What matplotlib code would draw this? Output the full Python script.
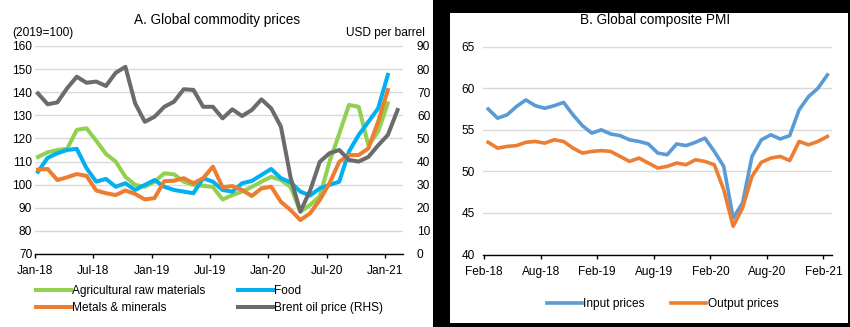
import numpy as np
import matplotlib
matplotlib.use("Agg")
import matplotlib.pyplot as plt
from matplotlib.patches import Rectangle

plt.rcParams['font.family'] = ['Liberation Sans', 'DejaVu Sans']

# ---- Panel A: global commodity prices (monthly, Jan-18 onwards) ----
a_ticklabels = ['Jan-18', 'Jul-18', 'Jan-19', 'Jul-19', 'Jan-20', 'Jul-20', 'Jan-21']
agri = [112, 114, 115, 115.5, 123.7, 124.4, 119, 113.3, 110, 103.4, 99.9, 99.1,
        101.3, 104.9, 104.5, 101.3, 99.9, 99.5, 99, 93.6, 95.5, 97, 99, 101.3,
        103.4, 102, 99, 88.3, 91.2, 95, 110, 122, 134.5, 133.7, 117, 123, 135.2]
food = [105.6, 111.6, 113.6, 115, 115.5, 107.1, 101.3, 102.5, 99.1, 100.6, 97.7, 99.9,
        102, 99.1, 97.7, 97, 96.3, 102.8, 101.3, 97.7, 97, 100.6, 101.6, 104.2,
        106.8, 102.8, 101, 97, 95.3, 98.4, 99.9, 101.3, 114.3, 121.5, 127.2, 133, 147.5]
metals = [106.5, 106.8, 102, 103.2, 104.6, 103.8, 97.5, 96.3, 95.5, 97.5, 96, 93.6,
          94.2, 101.5, 101.7, 102.8, 100.6, 102.8, 107.8, 98.9, 99.4, 97.7, 95.1, 98.4,
          99.1, 92.6, 89, 84.7, 87.6, 93.4, 100.6, 109.9, 112.8, 112.8, 115.7, 127.2, 141]
brent = [69.5, 64.8, 65.6, 71.7, 76.7, 74.1, 74.6, 72.7, 78.4, 81, 65.2, 57.2,
         59.4, 63.7, 65.9, 71.3, 71, 63.7, 63.7, 58.7, 62.6, 59.7, 62.3, 66.9,
         63, 55.1, 33, 18.3, 27.4, 39.9, 43.6, 45, 40.7, 40, 42, 47, 51.5, 62.3]

# ---- Panel B: global composite PMI (monthly, Feb-18 onwards) ----
b_ticklabels = ['Feb-18', 'Aug-18', 'Feb-19', 'Aug-19', 'Feb-20', 'Aug-20', 'Feb-21']
pmi_input = [57.5, 56.4, 56.8, 57.8, 58.6, 57.9, 57.6, 57.9, 58.3, 56.8, 55.5, 54.6,
             55.0, 54.5, 54.3, 53.8, 53.6, 53.3, 52.2, 52.0, 53.3, 53.1, 53.5, 54.0,
             52.4, 50.6, 44.4, 46.2, 51.8, 53.8, 54.4, 53.9, 54.3, 57.4, 59.0, 60.0, 61.6]
pmi_output = [53.5, 52.8, 53.0, 53.1, 53.5, 53.6, 53.4, 53.8, 53.6, 52.8, 52.2, 52.4,
              52.5, 52.4, 51.8, 51.2, 51.6, 51.0, 50.4, 50.6, 51.0, 50.8, 51.4, 51.2,
              50.8, 47.8, 43.4, 45.6, 49.4, 51.1, 51.6, 51.8, 51.3, 53.6, 53.2, 53.6, 54.2]

W, H = 850, 327
fig = plt.figure(figsize=(W / 100, H / 100), dpi=100)
fig.patch.set_facecolor('white')

# black frame around panel B (drawn underneath the axes)
fig.patches.append(Rectangle((433 / W, 0), (W - 433) / W, 1, transform=fig.transFigure,
                             facecolor='black', edgecolor='none', zorder=-20))
fig.patches.append(Rectangle((450 / W, 4 / H), 398 / W, 310 / H, transform=fig.transFigure,
                             facecolor='white', edgecolor='none', zorder=-10))

FS = 8.6
grid_c = '#D9D9D9'


def px_axes(x0, x1, ytop, ybot):
    return fig.add_axes([x0 / W, (H - ybot) / H, (x1 - x0) / W, (ybot - ytop) / H])


def style_axis(ax):
    ax.set_facecolor('none')
    for s in ['left', 'right', 'top']:
        ax.spines[s].set_visible(False)
    ax.spines['bottom'].set_color('black')
    ax.spines['bottom'].set_linewidth(1.0)
    ax.grid(axis='y', color=grid_c, lw=1.0)
    ax.set_axisbelow(True)
    ax.tick_params(axis='x', direction='out', length=3, width=1, pad=5, labelsize=FS)
    ax.tick_params(axis='y', length=0, labelsize=FS)


# ---------------- Panel A ----------------
axA = px_axes(35, 403, 46, 254)
style_axis(axA)
off = 0.3
xa = np.arange(len(agri)) + off
xb = np.arange(len(brent)) + off
axA.set_xlim(0, 37.86)
axA.set_ylim(70, 160)
axA.set_yticks(np.arange(70, 161, 10))
axA.set_xticks(np.arange(0, 37, 6))
axA.set_xticklabels(a_ticklabels)
axA.tick_params(axis='y', pad=2)

axA2 = axA.twinx()
axA2.set_ylim(0, 90)
axA2.set_yticks(np.arange(0, 91, 10))
for s in axA2.spines.values():
    s.set_visible(False)
axA2.tick_params(axis='y', length=0, pad=10, labelsize=FS)

lw = 2.9
l_agri, = axA.plot(xa, agri, color='#92D050', lw=lw, label='Agricultural raw materials', zorder=3)
l_food, = axA.plot(xa, food, color='#00B0F0', lw=lw, label='Food', zorder=3)
l_met, = axA.plot(xa, metals, color='#ED7D31', lw=lw, label='Metals & minerals', zorder=3)
l_brent, = axA2.plot(xb, brent, color='#6B6B6B', lw=lw, label='Brent oil price (RHS)', zorder=3)

fig.text(217 / W, 1 - 20 / H, 'A. Global commodity prices', ha='center', va='center', fontsize=9.8)
fig.text(12 / W, 1 - 33 / H, '(2019=100)', ha='left', va='center', fontsize=FS)
fig.text(425 / W, 1 - 33 / H, 'USD per barrel', ha='right', va='center', fontsize=FS)

fig.legend(handles=[l_agri, l_met, l_food, l_brent], ncol=2, frameon=False,
           loc='upper left', bbox_to_anchor=(36 / W, 1 - 285 / H), fontsize=FS,
           handlelength=2.95, handletextpad=0.1, columnspacing=2.7,
           labelspacing=0.45, borderpad=0, borderaxespad=0)

# ---------------- Panel B ----------------
axB = px_axes(483.3, 831.7, 46.7, 254.5)
style_axis(axB)
xp = np.arange(len(pmi_input)) + 0.42
axB.set_xlim(-0.1, 36.88)
axB.set_ylim(40, 65)
axB.set_yticks(np.arange(40, 66, 5))
axB.set_xticks(np.arange(0, 37, 6))
axB.set_xticklabels(b_ticklabels)
axB.tick_params(axis='y', pad=6)

l_in, = axB.plot(xp, pmi_input, color='#5B9BD5', lw=2.6, label='Input prices', zorder=3)
l_out, = axB.plot(xp, pmi_output, color='#ED7D31', lw=2.6, label='Output prices', zorder=3)

fig.text(655 / W, 1 - 20 / H, 'B. Global composite PMI', ha='center', va='center', fontsize=9.8)

fig.legend(handles=[l_in, l_out], ncol=2, frameon=False,
           loc='upper left', bbox_to_anchor=(547 / W, 1 - 298 / H), fontsize=FS,
           handlelength=2.95, handletextpad=0.1, columnspacing=2.2,
           borderpad=0, borderaxespad=0)

fig.savefig('out.png', dpi=100, facecolor='white')
